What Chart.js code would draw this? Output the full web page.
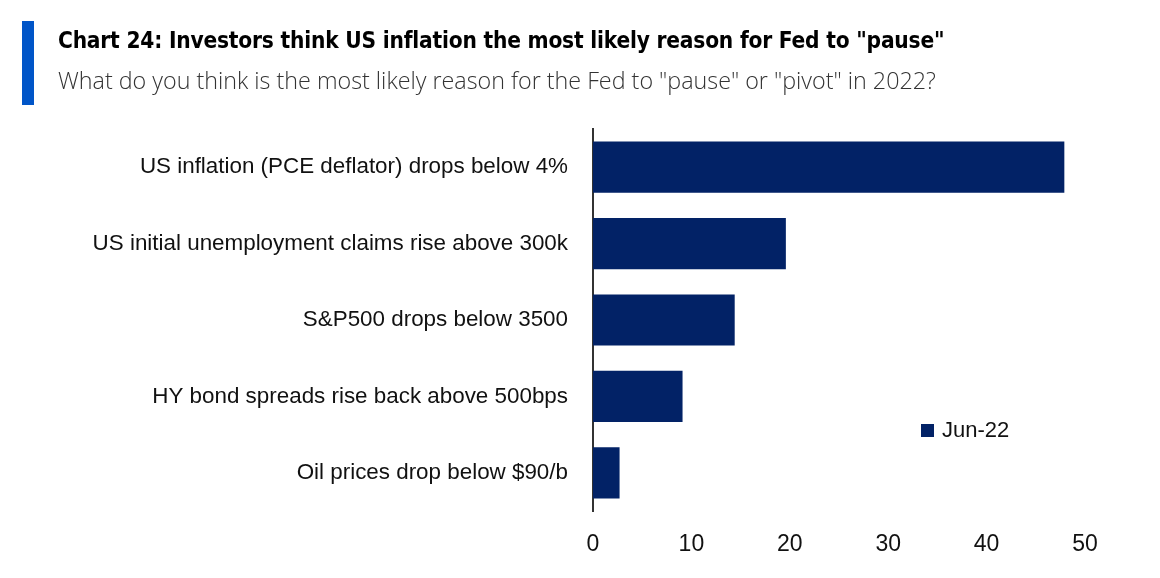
<!DOCTYPE html>
<html>
<head>
<meta charset="utf-8">
<script src="https://cdn.jsdelivr.net/npm/chart.js@4/dist/chart.umd.min.js"></script>
<style>
  html, body { margin: 0; padding: 0; background: #fff; }
  #wrap { position: relative; width: 1160px; height: 578px; overflow: hidden; }
  #bar { position: absolute; left: 22px; top: 21px; width: 12px; height: 84px; background: #0055c8; }
  #title { position: absolute; left: 58px; top: 26px; font-family: "DejaVu Sans Condensed", "DejaVu Sans", sans-serif; font-weight: bold; font-size: 22.5px; line-height: 28px; color: #000; white-space: nowrap; letter-spacing: -0.2px; }
  #subtitle { position: absolute; left: 58px; top: 64px; font-family: "Open Sans", sans-serif; font-weight: 300; font-size: 23.3px; line-height: 32px; color: #333; white-space: nowrap; }
  #c { position: absolute; left: 0; top: 0; }
</style>
</head>
<body>
<div id="wrap">
  <canvas id="c" width="1160" height="578"></canvas>
  <div id="bar"></div>
  <div id="title">Chart 24: Investors think US inflation the most likely reason for Fed to "pause"</div>
  <div id="subtitle">What do you think is the most likely reason for the Fed to "pause" or "pivot" in 2022?</div>
</div>
<script>
const categories = [
  "US inflation (PCE deflator) drops below 4%",
  "US initial unemployment claims rise above 300k",
  "S&P500 drops below 3500",
  "HY bond spreads rise back above 500bps",
  "Oil prices drop below $90/b"
];
const seriesName = "Jun-22";
const values = [47.9, 19.6, 14.4, 9.1, 2.7];
const xTicks = [0, 10, 20, 30, 40, 50];

const barColor = "#022266";
const labelFont = '"Liberation Sans", Arial, sans-serif';

const legendPlugin = {
  id: 'insideLegend',
  afterDraw(chart) {
    const ctx = chart.ctx;
    const ds = chart.data.datasets[0];
    const x = 921, y = 424;
    ctx.save();
    ctx.fillStyle = ds.backgroundColor;
    ctx.fillRect(x, y, 13, 13);
    ctx.fillStyle = '#111';
    ctx.font = '22px ' + labelFont;
    ctx.textBaseline = 'middle';
    ctx.textAlign = 'left';
    ctx.fillText(ds.label, x + 21, y + 7);
    ctx.restore();
  }
};

new Chart(document.getElementById('c'), {
  type: 'bar',
  data: {
    labels: categories,
    datasets: [{
      label: seriesName,
      data: values,
      backgroundColor: barColor,
      borderWidth: 0,
      barPercentage: 0.67,
      categoryPercentage: 1.0
    }]
  },
  options: {
    indexAxis: 'y',
    responsive: false,
    animation: false,
    devicePixelRatio: 1,
    layout: { padding: { left: 0, right: 75, top: 129, bottom: 0 } },
    plugins: {
      legend: { display: false },
      tooltip: { enabled: false },
      title: { display: false }
    },
    scales: {
      x: {
        min: 0, max: 50,
        afterBuildTicks(s) { s.ticks = xTicks.map(v => ({ value: v })); },
        grid: { display: false, drawTicks: false },
        border: { display: false },
        ticks: {
          color: '#111',
          font: { family: labelFont, size: 23 },
          padding: 20,
          maxRotation: 0
        },
        afterFit(s) { s.height = 67; }
      },
      y: {
        grid: { display: false, drawTicks: false },
        border: { display: true, color: '#333', width: 2 },
        ticks: {
          color: '#111',
          font: { family: labelFont, size: 22.4 },
          padding: 25,
          crossAlign: 'near'
        },
        afterFit(s) { s.width = 593; }
      }
    }
  },
  plugins: [legendPlugin]
});
</script>
</body>
</html>
